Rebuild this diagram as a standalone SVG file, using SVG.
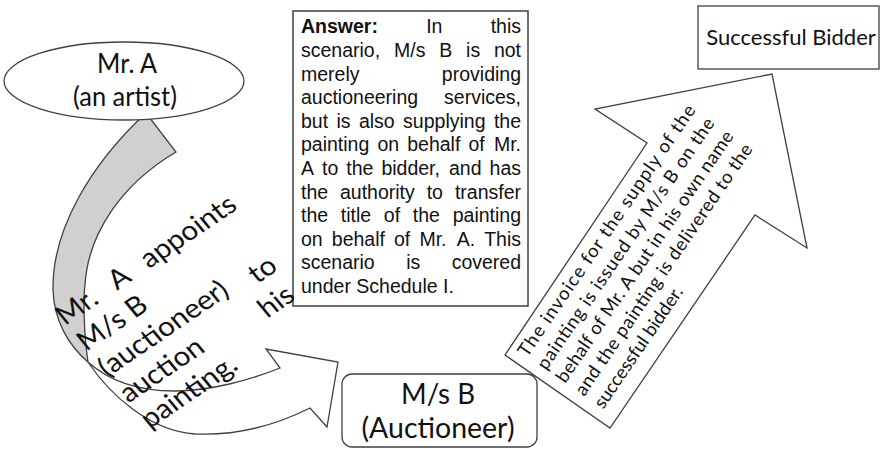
<svg xmlns="http://www.w3.org/2000/svg" width="883" height="449" viewBox="0 0 883 449">
<style>
.shape{fill:#fff;stroke:#404040;stroke-width:1.3}
.back{fill:#d0d0d0;stroke:#404040;stroke-width:1.3}
.cal{font-family:Lato,"Open Sans",sans-serif;fill:#111}
.ar{font-family:"Liberation Sans",Arial,sans-serif;font-size:19.5px;fill:#111}
.b{font-weight:bold}
</style>
<rect width="883" height="449" fill="#fff"/>
<g id="connectors">
  <g id="curved-arrow">
    <path class="back" d="M146,113 C90,165 52,230 53,290 C54,320 68,345 88,362 C84,335 83,300 85,285 C88,235 120,185 176,152 Z"/>
    <path class="shape" d="M88,362 C110,382 140,391 175,391 C210,391 250,380 280,368 L266,349 L338,362 L327,427 L310,408 C280,423 240,436 195,434 C150,431 110,395 88,362 Z"/>
  </g>
  <g id="big-arrow">
    <path class="shape" d="M505,355 L647,143 L595,109 L772,74 L807,248 L755,215 L610,428 Z"/>
  </g>
</g>
<g id="node-mr-a">
  <ellipse class="shape" cx="124" cy="81" rx="120" ry="39"/>
  <text class="cal" font-size="26" text-anchor="middle" x="127" y="73" textLength="60" lengthAdjust="spacingAndGlyphs">Mr. A</text>
  <text class="cal" font-size="26" text-anchor="middle" x="125" y="106" textLength="104" lengthAdjust="spacingAndGlyphs">(an artist)</text>
</g>
<g id="node-answer">
  <rect x="293" y="11" width="235" height="295" fill="#fff" stroke="#404040" stroke-width="1.5"/>
  <g class="ar">
    <text y="33.4"><tspan x="301" class="b">Answer:</tspan><tspan x="426.2">In</tspan><tspan x="521" text-anchor="end">this</tspan></text>
    <text y="57"><tspan x="301">scenario,</tspan><tspan x="394">M/s</tspan><tspan x="439.2">B</tspan><tspan x="466.1">is</tspan><tspan x="521" text-anchor="end">not</tspan></text>
    <text y="80.6"><tspan x="301">merely</tspan><tspan x="521" text-anchor="end">providing</tspan></text>
    <text y="104.2"><tspan x="301">auctioneering</tspan><tspan x="521" text-anchor="end">services,</tspan></text>
    <text y="127.8"><tspan x="301">but</tspan><tspan x="336.5">is</tspan><tspan x="358.9">also</tspan><tspan x="403.1">supplying</tspan><tspan x="521" text-anchor="end">the</tspan></text>
    <text y="151.4"><tspan x="301">painting</tspan><tspan x="377.4">on</tspan><tspan x="407.2">behalf</tspan><tspan x="468.4">of</tspan><tspan x="521" text-anchor="end">Mr.</tspan></text>
    <text y="175"><tspan x="301">A</tspan><tspan x="322">to</tspan><tspan x="346.3">the</tspan><tspan x="381.4">bidder,</tspan><tspan x="449">and</tspan><tspan x="521" text-anchor="end">has</tspan></text>
    <text y="198.6"><tspan x="301">the</tspan><tspan x="340">authority</tspan><tspan x="426.7">to</tspan><tspan x="521" text-anchor="end">transfer</tspan></text>
    <text y="222.2"><tspan x="301">the</tspan><tspan x="340.8">title</tspan><tspan x="383.8">of</tspan><tspan x="412.8">the</tspan><tspan x="521" text-anchor="end">painting</tspan></text>
    <text y="245.8"><tspan x="301">on</tspan><tspan x="331.8">behalf</tspan><tspan x="394">of</tspan><tspan x="419.4">Mr.</tspan><tspan x="456.7">A.</tspan><tspan x="521" text-anchor="end">This</tspan></text>
    <text y="269.4"><tspan x="301">scenario</tspan><tspan x="406.2">is</tspan><tspan x="521" text-anchor="end">covered</tspan></text>
    <text y="293" x="301">under Schedule I.</text>
  </g>
</g>
<g id="label-appoints" class="cal" font-size="27" transform="translate(65,326) scale(1.1,1) rotate(-36.7)">
  <text x="0" y="0">Mr.</text><text x="68" y="0" text-anchor="middle">A</text><text x="197" y="0" text-anchor="end">appoints</text>
  <text x="0" y="32.2">M/s B</text>
  <text x="0" y="64.4">(auctioneer)</text><text x="190" y="71" text-anchor="end">to</text>
  <text x="0" y="96.6">auction</text><text x="185" y="104" text-anchor="end">his</text>
  <text x="0" y="128.8">painting.</text>
</g>
<g id="node-ms-b">
  <rect class="shape" x="342" y="374" width="195" height="73" rx="10"/>
  <text class="cal" font-size="28" text-anchor="middle" x="438" y="404" textLength="74" lengthAdjust="spacingAndGlyphs">M/s B</text>
  <text class="cal" font-size="28" text-anchor="middle" x="438" y="438" textLength="153" lengthAdjust="spacingAndGlyphs">(Auctioneer)</text>
</g>
<g id="label-invoice" class="cal" font-size="18.5" transform="translate(505,355) rotate(-55.7)">
  <text x="10" y="20" textLength="300" lengthAdjust="spacing">The invoice for the supply of the</text>
  <text x="10" y="43" textLength="300" lengthAdjust="spacing">painting is issued by M/s B on the</text>
  <text x="10" y="66" textLength="300" lengthAdjust="spacing">behalf of Mr. A but in his own name</text>
  <text x="10" y="89" textLength="300" lengthAdjust="spacing">and the painting is delivered to the</text>
  <text x="10" y="112">successful bidder.</text>
</g>
<g id="node-bidder">
  <rect class="shape" x="698" y="6" width="181" height="63"/>
  <text class="cal" font-size="22" text-anchor="middle" x="791" y="45">Successful Bidder</text>
</g>
</svg>
